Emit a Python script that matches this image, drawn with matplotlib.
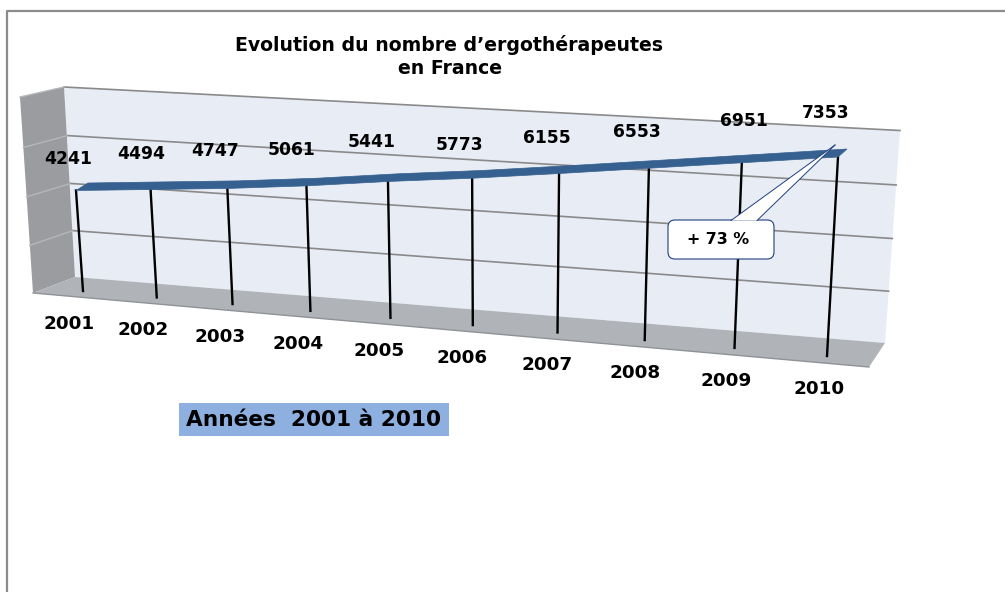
import numpy as np
import matplotlib
matplotlib.use("Agg")
import matplotlib.pyplot as plt
from matplotlib.patches import Polygon, FancyBboxPatch, Rectangle

W, H = 1005, 592

years = [2001, 2002, 2003, 2004, 2005, 2006, 2007, 2008, 2009, 2010]
counts = [4241, 4494, 4747, 5061, 5441, 5773, 6155, 6553, 6951, 7353]
grid_values = [0, 2000, 4000, 6000, 8000]
y_max = 8000

# hand placement of the value labels, pixels from the top of each drop line
label_dx = [-8, -9, -12, -15, -16, -13, -12, -12, 2, -12]
label_dy = [-32, -35, -37, -36, -39, -33, -36, -36, -42, -44]

TEXT = "#000000"
WALL = "#e8ecf5"
SIDE = "#9b9c9f"
FLOOR = "#b0b3b7"
GRID = "#8a8a8a"
RIBBON = "#35608f"
NAVY = "#1f3f7f"


def homography(src, dst):
    """3x3 matrix sending the 4 src points onto the 4 dst points."""
    rows, rhs = [], []
    for (u, v), (x, y) in zip(src, dst):
        rows.append([u, v, 1, 0, 0, 0, -u * x, -v * x])
        rows.append([0, 0, 0, u, v, 1, -u * y, -v * y])
        rhs += [x, y]
    return np.append(np.linalg.solve(np.array(rows, float), np.array(rhs, float)), 1).reshape(3, 3)


def apply(m, u, v):
    p = m @ np.array([u, v, np.ones_like(u)], float)
    return p[0] / p[2], p[1] / p[2]


# the 3D view of the original, as plane -> pixel mappings
series_plane = homography(
    [(0, 0), (9, 0), (0, 4241), (9, 7353)],
    [(83, 291), (827, 356), (76, 190.5), (838, 157)],
)
back_wall = homography(
    [(0, 0), (1, 0), (0, 1), (1, 1)],
    [(75, 277), (885, 343), (64, 87), (900, 130.5)],
)
side_wall = homography(
    [(0, 0), (1, 0), (0, 1), (1, 1)],
    [(75, 277), (33, 293), (64, 87), (20, 97)],
)

fig = plt.figure(figsize=(W / 100, H / 100), dpi=100)
ax = fig.add_axes([0, 0, 1, 1])
ax.set_xlim(0, W)
ax.set_ylim(H, 0)
ax.axis("off")

# outer frame
ax.plot([7, 7, W], [H, 11, 11], color="#8c8c8c", lw=1.6, zorder=1)

# walls and floor
ax.add_patch(Polygon([(64, 87), (900, 130.5), (885, 343), (75, 277)], fc=WALL, ec="none", zorder=1))
ax.add_patch(Polygon([(20, 97), (64, 87), (75, 277), (33, 293)], fc=SIDE, ec="none", zorder=1))
ax.add_patch(Polygon([(33, 293), (75, 277), (885, 343), (869, 367)], fc=FLOOR, ec="none", zorder=1))
ax.plot([33, 869], [293, 367], color="#8f9296", lw=1, zorder=2)

# gridlines, back wall then side wall
for g in grid_values[1:]:
    f = g / y_max
    xs, ys = apply(back_wall, np.array([0.0, 1.0]), np.array([f, f]))
    ax.plot(xs, ys, color=GRID, lw=1.2, zorder=2)
    xs, ys = apply(side_wall, np.array([0.0, 1.0]), np.array([f, f]))
    ax.plot(xs, ys, color="#b5b6b8", lw=1, zorder=2)

idx = np.arange(len(years), dtype=float)
vals = np.array(counts, dtype=float)
top_x, top_y = apply(series_plane, idx, vals)
base_x, base_y = apply(series_plane, idx, np.zeros_like(idx))

# drop lines
for i in range(len(years)):
    ax.plot([top_x[i], base_x[i]], [top_y[i], base_y[i]], color="black", lw=1.7, zorder=3)

# ribbon: the series line pushed back in depth
back_x = top_x + np.linspace(12, 9, len(years))
back_y = top_y - np.linspace(7.5, 8, len(years))
ribbon = np.column_stack([np.r_[top_x, back_x[::-1]], np.r_[top_y, back_y[::-1]]])
ax.add_patch(Polygon(ribbon, fc=RIBBON, ec=RIBBON, lw=0.5, zorder=4))

# value labels
for i, c in enumerate(counts):
    ax.text(top_x[i] + label_dx[i], top_y[i] + label_dy[i], str(c), ha="center", va="center",
            fontsize=12.3, fontweight="bold", color=TEXT, zorder=6)

# category labels
for i, yr in enumerate(years):
    ax.text(base_x[i] - 14 + 0.67 * i, base_y[i] + 33, str(yr), ha="center", va="center",
            fontsize=13.2, fontweight="bold", color=TEXT, zorder=6)

# title
ax.text(449, 45, "Evolution du nombre d’ergothérapeutes", ha="center", va="center",
        fontsize=13.6, fontweight="bold", color=TEXT)
ax.text(450, 68, "en France", ha="center", va="center", fontsize=13.6, fontweight="bold", color=TEXT)

# years caption
ax.add_patch(Rectangle((179, 403), 270, 33, fc="#8db0e0", ec="none", zorder=5))
ax.text(313, 420, "Années  2001 à 2010", ha="center", va="center",
        fontsize=15.6, fontweight="bold", color=TEXT, zorder=6)

# callout
ax.add_patch(FancyBboxPatch((672, 224), 98, 31, boxstyle="round,pad=4,rounding_size=7",
                            fc="white", ec=NAVY, lw=0.8, zorder=7))
tip = (top_x[-1] - 3, top_y[-1] - 12)
ax.add_patch(Polygon([(731, 220.5), tip, (757, 220.5)], fc="white", ec="none", zorder=8))
ax.plot([731, tip[0]], [220.5, tip[1]], color=NAVY, lw=0.7, zorder=8)
ax.plot([757, tip[0]], [220.5, tip[1]], color=NAVY, lw=0.7, zorder=8)
ax.text(718, 240, "+ 73 %", ha="center", va="center", fontsize=11.4, fontweight="bold",
        color=TEXT, zorder=9)

fig.savefig("out.png", dpi=100)
